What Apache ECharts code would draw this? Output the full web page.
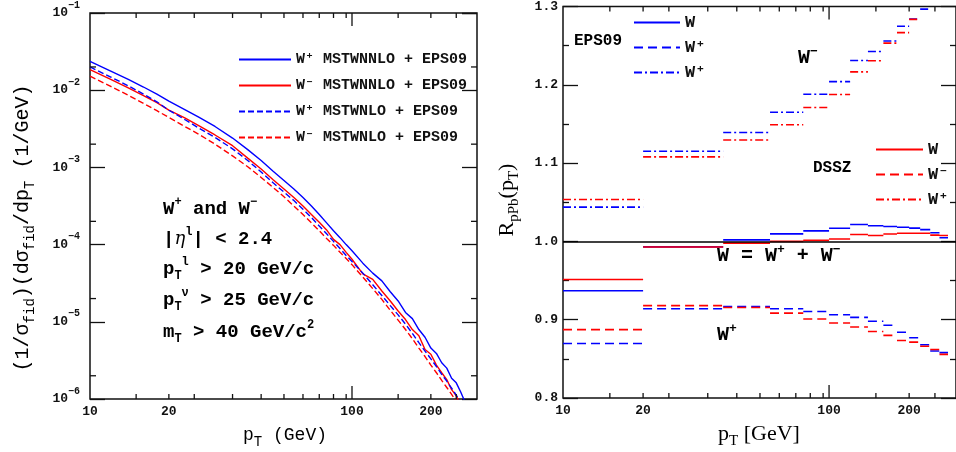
<!DOCTYPE html>
<html>
<head>
<meta charset="utf-8">
<script src="https://cdn.jsdelivr.net/npm/echarts@6/dist/echarts.min.js"></script>
<style>
  html, body { margin: 0; padding: 0; background: #fff; }
  #chart { width: 956px; height: 452px; }
</style>
</head>
<body>
<div id="chart"></div>
<script>
// left panel: normalised pT spectra (1/GeV)
const ptLeft = [10, 12, 14, 16, 18, 20, 23, 26, 30, 35, 40, 45, 50, 55, 60, 65, 70, 75, 80, 85, 90, 95, 100,
  110, 120, 130, 140, 150, 160, 170, 180, 190, 200, 210, 220, 230, 240, 250, 260, 270]
const wPlusNNLO = [2.37e-2, 1.77e-2, 1.38e-2, 1.10e-2, 8.91e-3, 7.21e-3, 5.62e-3, 4.47e-3, 3.39e-3, 2.40e-3,
  1.70e-3, 1.23e-3, 8.91e-4, 6.76e-4, 5.25e-4, 4.07e-4, 3.16e-4, 2.45e-4, 1.91e-4, 1.51e-4, 1.23e-4, 1.00e-4,
  8.32e-5, 5.75e-5, 4.27e-5, 3.39e-5, 2.45e-5, 1.86e-5, 1.32e-5, 1.10e-5, 7.94e-6, 6.31e-6, 4.57e-6, 3.89e-6,
  2.95e-6, 2.51e-6, 1.86e-6, 1.62e-6, 1.23e-6, 9.12e-7]
const wMinusNNLO = [1.85e-2, 1.38e-2, 1.07e-2, 8.51e-3, 6.92e-3, 5.52e-3, 4.37e-3, 3.47e-3, 2.63e-3, 1.91e-3,
  1.32e-3, 9.55e-4, 6.92e-4, 5.25e-4, 4.07e-4, 3.16e-4, 2.45e-4, 1.95e-4, 1.55e-4, 1.17e-4, 1.00e-4, 7.94e-5,
  6.46e-5, 4.17e-5, 3.55e-5, 2.51e-5, 1.86e-5, 1.38e-5, 1.07e-5, 7.94e-6, 6.61e-6, 4.37e-6, 3.80e-6, 2.75e-6,
  2.19e-6, 1.78e-6, 1.32e-6, 1.10e-6, 8.32e-7, 6.31e-7]
const wPlusNLO = [2.00e-2, 1.48e-2, 1.14e-2, 8.91e-3, 7.08e-3, 5.50e-3, 4.17e-3, 3.24e-3, 2.45e-3, 1.74e-3,
  1.23e-3, 8.71e-4, 6.31e-4, 4.79e-4, 3.72e-4, 2.88e-4, 2.24e-4, 1.74e-4, 1.38e-4, 1.10e-4, 8.91e-5, 7.24e-5,
  6.03e-5, 4.27e-5, 3.02e-5, 2.19e-5, 1.62e-5, 1.23e-5, 9.33e-6, 7.08e-6, 5.37e-6, 4.17e-6, 3.31e-6, 2.63e-6,
  2.09e-6, 1.70e-6, 1.38e-6, 1.12e-6, 9.12e-7, 7.41e-7]
const wMinusNLO = [1.52e-2, 1.12e-2, 8.61e-3, 6.76e-3, 5.43e-3, 4.43e-3, 3.39e-3, 2.69e-3, 2.00e-3, 1.41e-3,
  1.02e-3, 7.41e-4, 5.50e-4, 4.17e-4, 3.16e-4, 2.45e-4, 1.91e-4, 1.51e-4, 1.20e-4, 9.77e-5, 7.94e-5, 6.61e-5,
  5.50e-5, 3.80e-5, 2.69e-5, 1.95e-5, 1.41e-5, 1.05e-5, 7.94e-6, 6.03e-6, 4.57e-6, 3.55e-6, 2.75e-6, 2.19e-6,
  1.74e-6, 1.41e-6, 1.15e-6, 9.33e-7]

// right panel: R_pPb per pT bin
const binEdges = [10, 20, 40, 60, 80, 100, 120, 140, 160, 180, 200, 220, 240, 260, 280]
const eps09W = [0.937, 0.993, 1.002, 1.0096, 1.0134, 1.0168, 1.0215, 1.020, 1.019, 1.018, 1.017, 1.015, 1.011, 1.0046]
const dsszW = [0.9514, 0.9928, 0.9978, 1.000, 1.0013, 1.003, 1.0088, 1.0076, 1.0095, 1.0105, 1.0105, 1.0105, 1.008, 1.0076]
const eps09Wplus = [0.8696, 0.914, 0.9168, 0.914, 0.9105, 0.9063, 0.903, 0.898, 0.893, 0.884, 0.877, 0.868, 0.860, 0.858]
const dsszWplus = [0.8873, 0.918, 0.9156, 0.9084, 0.9008, 0.8957, 0.8906, 0.885, 0.880, 0.8734, 0.8713, 0.866, 0.862, 0.8557]
const eps09Wminus = [1.0438, 1.1152, 1.139, 1.165, 1.188, 1.204, 1.231, 1.2425, 1.256, 1.2747, 1.284, 1.2966, null, null]
const dsszWminus = [1.0535, 1.108, 1.1295, 1.149, 1.171, 1.1877, 1.2165, 1.2308, 1.2532, 1.2666, 1.2835, null, null, null]

// axis ticks / labels
const xTicksMinor = [15, 20, 25, 35, 45, 55, 65, 75, 85, 95, 150, 200, 250]
const xTicksMajor = [100]
const xLabels = [10, 20, 100, 200]
const yTicksMinorLeft = [2e-2, 2e-3, 2e-4, 2e-5, 2e-6]

const leftNames = ['W⁺ MSTWNNLO + EPS09', 'W⁻ MSTWNNLO + EPS09', 'W⁺ MSTWNLO + EPS09', 'W⁻ MSTWNLO + EPS09']
const epsNames = ['EPS09 W', 'EPS09 W+', 'EPS09 W-']
const epsLabels = ['W', 'W⁺', 'W⁺']
const dsszNames = ['DSSZ W', 'DSSZ W+', 'DSSZ W-']
const dsszLabels = ['W', 'W⁻', 'W⁺']

const mono = "'Liberation Mono', 'DejaVu Sans Mono', monospace"
const serif = "'Liberation Serif', 'DejaVu Serif', serif"
const BLUE = '#0000ff'
const RED = '#ff0000'
const INK = '#111'
const dashDot = [8, 3, 2, 3]

const chart = echarts.init(document.getElementById('chart'))

// short vertical tick on the bottom (dir -1) or top (dir 1) edge
function xTickSeries(xi, yi, vals, len, yEdge, dir) {
  return {
    type: 'custom', xAxisIndex: xi, yAxisIndex: yi, silent: true, z: 5,
    data: vals.map(v => [v, yEdge]),
    encode: { x: 0, y: 1 },
    renderItem: (params, api) => {
      const p = api.coord([api.value(0), yEdge])
      return { type: 'line', shape: { x1: p[0], y1: p[1], x2: p[0], y2: p[1] + dir * len },
        style: { stroke: INK, lineWidth: 1.3 } }
    }
  }
}

// short horizontal tick on the left (dir 1) or right (dir -1) edge
function yTickSeries(xi, yi, vals, len, xEdge, dir) {
  return {
    type: 'custom', xAxisIndex: xi, yAxisIndex: yi, silent: true, z: 5,
    data: vals.map(v => [xEdge, v]),
    encode: { x: 0, y: 1 },
    renderItem: (params, api) => {
      const p = api.coord([xEdge, api.value(1)])
      return { type: 'line', shape: { x1: p[0], y1: p[1], x2: p[0] + dir * len, y2: p[1] },
        style: { stroke: INK, lineWidth: 1.3 } }
    }
  }
}

function steps(vals) {
  const out = []
  vals.forEach((v, i) => {
    if (v == null) return
    out.push([binEdges[i], v], [binEdges[i + 1], v], [binEdges[i + 1], '-'])
  })
  return out
}

function curve(name, vals, color, type) {
  return {
    name, type: 'line', xAxisIndex: 0, yAxisIndex: 0, symbol: 'none', clip: true,
    data: vals.map((v, i) => [ptLeft[i], v]),
    lineStyle: { color, width: 1.4, type }, itemStyle: { color }
  }
}

function bins(name, vals, color, type, extra) {
  return Object.assign({
    name, type: 'line', xAxisIndex: 1, yAxisIndex: 2, symbol: 'none', clip: true, connectNulls: false,
    data: steps(vals),
    lineStyle: { color, width: 1.6, type }, itemStyle: { color }
  }, extra || {})
}

const supRich = {
  n: { fontFamily: mono, fontWeight: 'bold', fontSize: 19, lineHeight: 26, color: INK },
  sub: { fontFamily: mono, fontWeight: 'bold', fontSize: 12, lineHeight: 12, verticalAlign: 'bottom', color: INK },
  sup: { fontFamily: mono, fontWeight: 'bold', fontSize: 12, lineHeight: 12, verticalAlign: 'top', color: INK },
  i: { fontFamily: "'DejaVu Serif', serif", fontStyle: 'italic', fontSize: 18, lineHeight: 26, color: INK }
}

function txt(x, y, text, rich, rotation) {
  return {
    type: 'text', x, y, rotation: rotation || 0, silent: true,
    style: { text, rich, align: rotation ? 'center' : 'left', verticalAlign: 'middle' }
  }
}

const titleRich = {
  n: { fontFamily: mono, fontSize: 20, lineHeight: 28, color: INK },
  sub: { fontFamily: mono, fontSize: 14, lineHeight: 14, verticalAlign: 'bottom', color: INK }
}
const serifRich = {
  n: { fontFamily: serif, fontSize: 22, lineHeight: 30, color: INK },
  sub: { fontFamily: serif, fontSize: 15, lineHeight: 15, verticalAlign: 'bottom', color: INK }
}
const bigMono = {
  n: { fontFamily: mono, fontWeight: 'bold', fontSize: 20, lineHeight: 26, color: INK },
  sup: { fontFamily: mono, fontWeight: 'bold', fontSize: 13, lineHeight: 13, verticalAlign: 'top', color: INK }
}

const xLabelStyle = {
  customValues: xLabels, margin: 6,
  fontFamily: mono, fontWeight: 'bold', fontSize: 13, color: INK
}
const majorTick = { show: true, inside: true, length: 15, lineStyle: { color: INK, width: 1.3 } }
const minorTick = { show: true, splitNumber: 2, length: 6, lineStyle: { color: INK, width: 1.3 } }
const legendText = size => ({ fontFamily: mono, fontWeight: 'bold', fontSize: size, color: INK, lineHeight: size + 2 })

const option = {
  animation: false,
  backgroundColor: '#fff',
  grid: [
    { left: 90, top: 13, width: 387, height: 386, show: true, borderColor: INK, borderWidth: 1.5, backgroundColor: 'transparent' },
    { left: 563, top: 2, width: 396, height: 396, show: true, borderColor: INK, borderWidth: 1.5, backgroundColor: 'transparent' }
  ],
  xAxis: [
    { type: 'log', gridIndex: 0, min: 10, max: 300, axisLine: { show: false }, axisTick: { show: false },
      splitLine: { show: false }, axisLabel: xLabelStyle },
    { type: 'log', gridIndex: 1, min: 10, max: 300, axisLine: { show: false }, axisTick: { show: false },
      splitLine: { show: false }, axisLabel: xLabelStyle }
  ],
  yAxis: [
    { type: 'log', gridIndex: 0, min: 1e-6, max: 1e-1, position: 'left',
      axisLine: { show: false }, splitLine: { show: false }, axisTick: majorTick,
      axisLabel: {
        margin: 10,
        formatter: v => '{b|10}{e|−' + Math.round(-Math.log10(v)) + '}',
        rich: {
          b: { fontFamily: mono, fontWeight: 'bold', fontSize: 13, lineHeight: 26, color: INK },
          e: { fontFamily: mono, fontWeight: 'bold', fontSize: 10, lineHeight: 11, verticalAlign: 'top', color: INK }
        }
      } },
    { type: 'log', gridIndex: 0, min: 1e-6, max: 1e-1, position: 'right',
      axisLine: { show: false }, splitLine: { show: false }, axisLabel: { show: false }, axisTick: majorTick },
    { type: 'value', gridIndex: 1, min: 0.8, max: 1.3, interval: 0.1, position: 'left',
      axisLine: { show: false }, splitLine: { show: false }, axisTick: majorTick, minorTick,
      axisLabel: { margin: 5, formatter: v => v.toFixed(1), fontFamily: mono, fontWeight: 'bold', fontSize: 13, color: INK } },
    { type: 'value', gridIndex: 1, min: 0.8, max: 1.3, interval: 0.1, position: 'right',
      axisLine: { show: false }, splitLine: { show: false }, axisLabel: { show: false }, axisTick: majorTick, minorTick }
  ],
  legend: [
    { data: leftNames, orient: 'vertical', left: 233, top: 46, itemWidth: 52, itemHeight: 14, itemGap: 9,
      selectedMode: false, itemStyle: { opacity: 0 }, textStyle: legendText(15) },
    { data: epsNames, orient: 'vertical', left: 628, top: 8, itemWidth: 46, itemHeight: 14, itemGap: 6,
      selectedMode: false, itemStyle: { opacity: 0 }, formatter: n => epsLabels[epsNames.indexOf(n)],
      textStyle: legendText(17) },
    { data: dsszNames, orient: 'vertical', left: 870, top: 135, itemWidth: 47, itemHeight: 14, itemGap: 6,
      selectedMode: false, itemStyle: { opacity: 0 }, formatter: n => dsszLabels[dsszNames.indexOf(n)],
      textStyle: legendText(17) }
  ],
  series: [
    curve(leftNames[0], wPlusNNLO, BLUE, 'solid'),
    curve(leftNames[1], wMinusNNLO, RED, 'solid'),
    curve(leftNames[2], wPlusNLO, BLUE, [6, 3]),
    curve(leftNames[3], wMinusNLO, RED, [6, 3]),

    bins(epsNames[0], eps09W, BLUE, 'solid', {
      markLine: { silent: true, symbol: 'none', label: { show: false },
        lineStyle: { color: '#000', width: 1.5, type: 'solid' }, data: [{ yAxis: 1 }] }
    }),
    bins(epsNames[1], eps09Wplus, BLUE, [9, 5]),
    bins(epsNames[2], eps09Wminus, BLUE, dashDot),
    bins(dsszNames[0], dsszW, RED, 'solid'),
    bins(dsszNames[1], dsszWplus, RED, [9, 5]),
    bins(dsszNames[2], dsszWminus, RED, dashDot),

    // ticks the axes cannot place themselves
    xTickSeries(0, 0, xTicksMinor, 5, 1e-6, -1),
    xTickSeries(0, 0, xTicksMinor, 5, 1e-1, 1),
    xTickSeries(0, 0, xTicksMajor, 13, 1e-6, -1),
    xTickSeries(0, 0, xTicksMajor, 13, 1e-1, 1),
    yTickSeries(0, 0, yTicksMinorLeft, 6, 10, 1),
    yTickSeries(0, 0, yTicksMinorLeft, 6, 300, -1),
    xTickSeries(1, 2, xTicksMinor, 5, 0.8, -1),
    xTickSeries(1, 2, xTicksMinor, 5, 1.3, 1),
    xTickSeries(1, 2, xTicksMajor, 13, 0.8, -1),
    xTickSeries(1, 2, xTicksMajor, 13, 1.3, 1)
  ],
  graphic: [
    // left panel annotations
    txt(163, 209, '{n|W}{sup|+}{n| and W}{sup|−}', supRich),
    txt(163, 239, '{n||}{i|η}{sup|l}{n|| < 2.4}', supRich),
    txt(163, 269, '{n|p}{sub|T}{sup|l}{n| > 20 GeV/c}', supRich),
    txt(163, 300, '{n|p}{sub|T}{sup|ν}{n| > 25 GeV/c}', supRich),
    txt(163, 332, '{n|m}{sub|T}{n| > 40 GeV/c}{sup|2}', supRich),
    // left axis titles
    txt(23, 228, '{n|(1/σ}{sub|fid}{n|)(dσ}{sub|fid}{n|/dp}{sub|T}{n| (1/GeV)}', titleRich, Math.PI / 2),
    txt(243, 435, '{n|p}{sub|T}{n| (GeV)}', { n: Object.assign({}, titleRich.n, { fontSize: 18 }), sub: titleRich.sub }),
    // right panel annotations
    txt(574, 41, '{n|EPS09}', { n: { fontFamily: mono, fontWeight: 'bold', fontSize: 16, color: INK } }),
    txt(813, 168, '{n|DSSZ}', { n: { fontFamily: mono, fontWeight: 'bold', fontSize: 16, color: INK } }),
    txt(798, 58, '{n|W}{sup|−}', bigMono),
    txt(717, 256, '{n|W = W}{sup|+}{n| + W}{sup|−}', bigMono),
    txt(717, 335, '{n|W}{sup|+}', bigMono),
    // right axis titles
    txt(507, 200, '{n|R}{sub|pPb}{n|(p}{sub|T}{n|)}', serifRich, Math.PI / 2),
    txt(718, 434, '{n|p}{sub|T}{n| [GeV]}', serifRich)
  ]
}

chart.setOption(option)
</script>
</body>
</html>
